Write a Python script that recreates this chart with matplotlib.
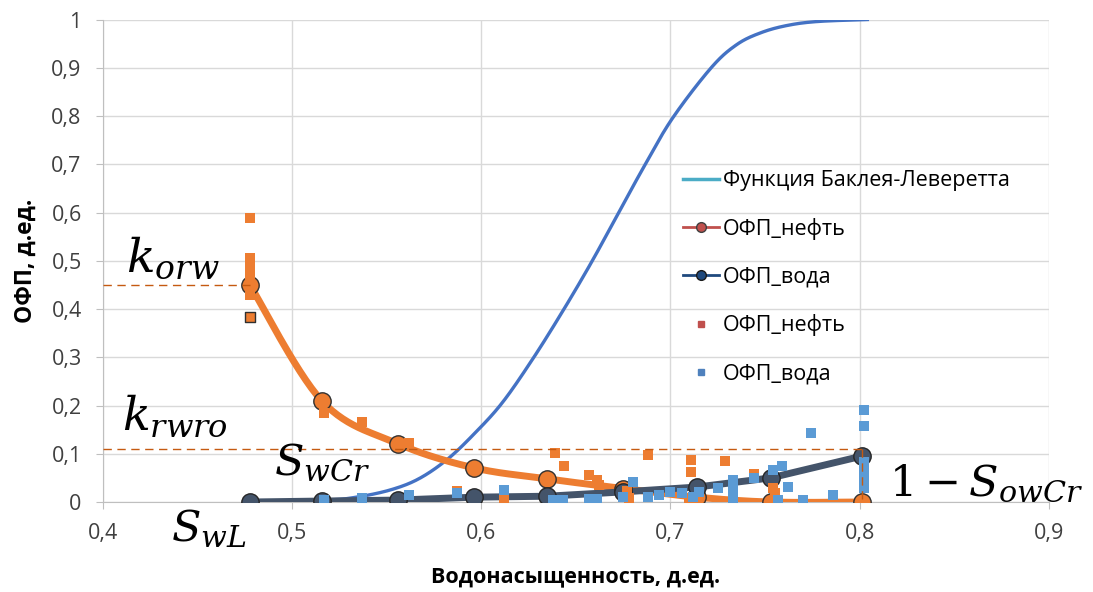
import numpy as np
import matplotlib
matplotlib.use('Agg')
import matplotlib.pyplot as plt
from matplotlib.lines import Line2D
from matplotlib.ticker import FuncFormatter

# ОФП (смоченные точки) - нефть и вода
sw_nodes = [0.478, 0.516, 0.556, 0.596, 0.635, 0.675, 0.714, 0.753, 0.801]
kro_nodes = [0.449, 0.209, 0.121, 0.071, 0.048, 0.028, 0.010, 0.000, 0.000]
krw_nodes = [0.000, 0.002, 0.004, 0.010, 0.012, 0.021, 0.031, 0.050, 0.095]

# функция Баклея-Леверетта
bl_sw = [0.478, 0.518, 0.534, 0.552, 0.567, 0.582, 0.596, 0.611, 0.627, 0.643,
         0.658, 0.672, 0.686, 0.701, 0.7215, 0.735, 0.748, 0.762, 0.778, 0.804]
bl_f = [0.000, 0.004, 0.010, 0.025, 0.048, 0.088, 0.140, 0.205, 0.295, 0.395,
        0.495, 0.595, 0.695, 0.795, 0.900, 0.948, 0.973, 0.988, 0.996, 1.000]

# экспериментальные точки
oil_pts_x = [0.478, 0.478, 0.478, 0.478, 0.478, 0.478, 0.478, 0.478, 0.478,
             0.517, 0.537, 0.562, 0.587, 0.612, 0.639, 0.644, 0.657, 0.661,
             0.662, 0.677, 0.678, 0.688, 0.710, 0.711, 0.711, 0.729, 0.744,
             0.754, 0.755]
oil_pts_y = [0.588, 0.505, 0.495, 0.485, 0.475, 0.465, 0.455, 0.440, 0.430,
             0.184, 0.165, 0.122, 0.022, 0.008, 0.101, 0.074, 0.056, 0.046,
             0.035, 0.022, 0.008, 0.097, 0.005, 0.087, 0.062, 0.085, 0.058,
             0.030, 0.018]
oil_sel_x = [0.478]
oil_sel_y = [0.383]

wat_pts_x = [0.517, 0.537, 0.562, 0.587, 0.612, 0.638, 0.643, 0.657, 0.661,
             0.675, 0.680, 0.688, 0.694, 0.700, 0.706, 0.712, 0.715, 0.725,
             0.733, 0.733, 0.733, 0.744, 0.754, 0.759, 0.762, 0.757, 0.770,
             0.774, 0.786, 0.802, 0.802, 0.802, 0.802, 0.802, 0.802]
wat_pts_y = [0.004, 0.008, 0.014, 0.018, 0.025, 0.004, 0.004, 0.006, 0.006,
             0.010, 0.042, 0.010, 0.015, 0.020, 0.019, 0.010, 0.020, 0.029,
             0.045, 0.025, 0.004, 0.050, 0.066, 0.075, 0.032, 0.004, 0.004,
             0.143, 0.014, 0.190, 0.157, 0.083, 0.065, 0.045, 0.030]

korw = 0.45
krwro = 0.11
sw_end = 0.801

xticks = [0.4, 0.5, 0.6, 0.7, 0.8, 0.9]
yticks = [0, 0.1, 0.2, 0.3, 0.4, 0.5, 0.6, 0.7, 0.8, 0.9, 1.0]


def smooth(xs, ys, n=30):
    # сглаживание как в Excel (кривые Безье через точки)
    p = np.column_stack([xs, ys])
    p = np.vstack([p[0], p, p[-1]])
    out = []
    t = np.linspace(0, 1, n)[:, None]
    for i in range(1, len(p) - 2):
        p0, p1, p2, p3 = p[i - 1], p[i], p[i + 1], p[i + 2]
        c1 = p1 + (p2 - p0) / 6
        c2 = p2 - (p3 - p1) / 6
        seg = ((1 - t) ** 3) * p1 + 3 * ((1 - t) ** 2) * t * c1 + 3 * (1 - t) * t ** 2 * c2 + t ** 3 * p2
        out.append(seg)
    out = np.vstack(out)
    return out[:, 0], out[:, 1]


plt.rcParams['font.family'] = ['Open Sans', 'DejaVu Sans']
plt.rcParams['mathtext.fontset'] = 'dejavuserif'

fig = plt.figure(figsize=(10.93, 5.92), dpi=100)
ax = fig.add_axes([0.0938, 0.152, 0.866, 0.815])

orange = '#ED7D31'
dark = '#44546A'

bx, by = smooth(bl_sw, bl_f)
ax.plot(bx, by, color='#4472C4', lw=2.4, zorder=2)

ox, oy = smooth(sw_nodes, kro_nodes)
ax.plot(ox, oy, color=orange, lw=5, zorder=3, solid_capstyle='round')
ax.plot(sw_nodes, kro_nodes, 'o', ms=12.5, mfc=orange, mec='#303030', mew=1, zorder=4)

ax.plot(sw_nodes, krw_nodes, color=dark, lw=5, zorder=3, solid_capstyle='round')
ax.plot(sw_nodes, krw_nodes, 'o', ms=12.5, mfc=dark, mec='#262626', mew=1, zorder=4)

ax.scatter(oil_pts_x, oil_pts_y, marker='s', s=52, color=orange, linewidths=0, zorder=5)
ax.scatter(oil_sel_x, oil_sel_y, marker='s', s=48, color=orange, edgecolors='#303030',
           linewidths=1, zorder=5)
ax.scatter(wat_pts_x, wat_pts_y, marker='s', s=52, color='#5B9BD5', linewidths=0, zorder=5)

# пунктирные линии
dash_c = '#C55A11'
ax.plot([0.4, sw_nodes[0]], [korw, korw], ls=(0, (6, 4)), color=dash_c, lw=1, zorder=6)
ax.plot([0.4, sw_end], [krwro, krwro], ls=(0, (6, 4)), color=dash_c, lw=1, zorder=6)
ax.plot([sw_end, sw_end], [krwro, 0], ls=(0, (6, 4)), color=dash_c, lw=1, zorder=6)

# обозначения
ax.text(0.4125, 0.478, r'$k_{orw}$', fontsize=34, color='black', zorder=7)
ax.text(0.4105, 0.15, r'$k_{rwro}$', fontsize=33, color='black', zorder=7)
ax.text(0.4905, 0.058, r'$S_{wCr}$', fontsize=31, color='black', zorder=7)
ax.text(0.436, -0.082, r'$S_{wL}$', fontsize=31, color='black', zorder=7, clip_on=False)
ax.text(0.8155, 0.014, r'$1-S_{owCr}$', fontsize=31, color='black', zorder=7, clip_on=False)

ax.set_xlim(0.4, 0.9)
ax.set_ylim(0, 1)
ax.set_xticks(xticks)
ax.set_yticks(yticks)
fmt = FuncFormatter(lambda v, pos: ('%g' % round(v, 2)).replace('.', ','))
ax.xaxis.set_major_formatter(fmt)
ax.yaxis.set_major_formatter(fmt)
ax.tick_params(axis='both', direction='out', length=5, color='#BFBFBF', labelsize=15.5,
               labelcolor='#404040')
ax.tick_params(axis='x', pad=10)
ax.tick_params(axis='y', pad=10)
ax.grid(True, color='#D9D9D9', lw=1)
ax.set_axisbelow(True)
for s in ['top', 'right']:
    ax.spines[s].set_visible(False)
for s in ['left', 'bottom']:
    ax.spines[s].set_color('#BFBFBF')

ax.set_xlabel('Водонасыщенность, д.ед.', fontsize=15.5, fontweight='bold', labelpad=16)
ax.set_ylabel('ОФП, д.ед.', fontsize=16.5, fontweight='bold', labelpad=10)

handles = [
    Line2D([], [], color='#4BACC6', lw=2.5),
    Line2D([], [], color='#C0504D', lw=2, marker='o', ms=7, mfc='#C0504D', mec='#404040'),
    Line2D([], [], color='#1F497D', lw=2, marker='o', ms=7, mfc='#1F497D', mec='#1a1a1a'),
    Line2D([], [], ls='none', marker='s', ms=5, color='#C0504D'),
    Line2D([], [], ls='none', marker='s', ms=5, color='#4F81BD'),
]
labels = ['Функция Баклея-Леверетта', 'ОФП_нефть', 'ОФП_вода', 'ОФП_нефть', 'ОФП_вода']
ax.legend(handles, labels, loc='center left', bbox_to_anchor=(0.613, 0.466), frameon=False,
          fontsize=15.5, borderpad=0, borderaxespad=0, handlelength=1.7, handletextpad=0.15,
          labelspacing=1.24)

fig.savefig('out.png', dpi=100)
